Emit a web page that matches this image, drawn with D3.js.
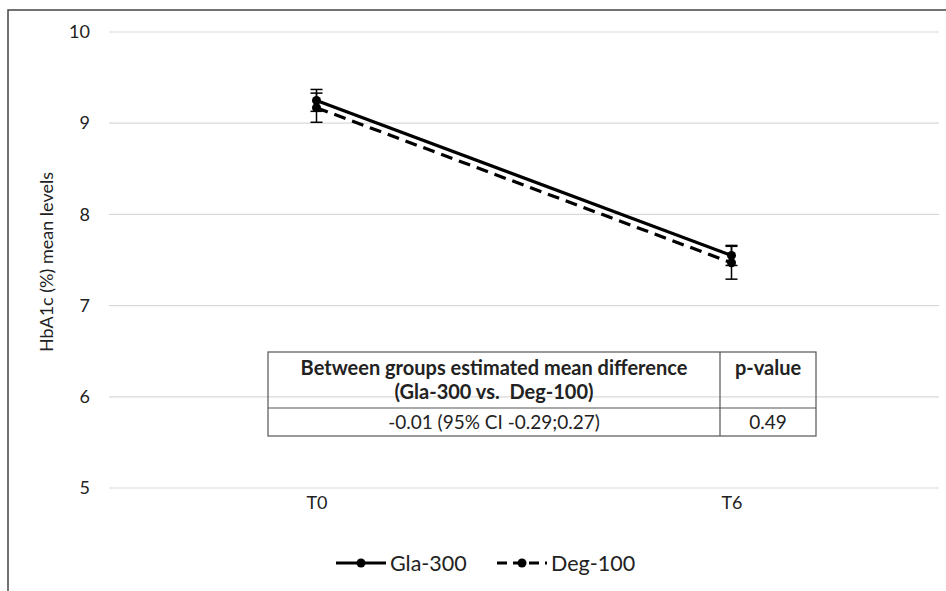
<!DOCTYPE html>
<html>
<head>
<meta charset="utf-8">
<script src="https://cdn.jsdelivr.net/npm/d3@7"></script>
<style>
  html, body { margin: 0; padding: 0; background: #fff; }
  svg { display: block; }
  text { white-space: pre; }
</style>
</head>
<body>
<svg id="chart" width="946" height="591"></svg>
<script>
// ---- data ----
const categories = ["T0", "T6"];
const glaValues = [9.25, 7.55];
const glaErrors = [0.12, 0.11];
const degValues = [9.17, 7.47];
const degErrors = [0.16, 0.18];
const yTicks = [5, 6, 7, 8, 9, 10];
const seriesNames = ["Gla-300", "Deg-100"];
const tableHeader = [["Between groups estimated mean difference", "(Gla-300 vs.  Deg-100)"], ["p-value"]];
const tableRow = ["-0.01 (95% CI -0.29;0.27)", "0.49"];
const yTitle = "HbA1c (%) mean levels";

// ---- layout ----
const svg = d3.select("#chart");
const font = "Lato, 'Open Sans', sans-serif";
const plot = { left: 109, right: 939, top: 32, bottom: 488 };

const x = d3.scalePoint().domain(categories).range([plot.left, plot.right]).padding(0.5);
const y = d3.scaleLinear().domain([5, 10]).range([plot.bottom, plot.top]);

// outer frame (top and left edges visible)
svg.append("path")
  .attr("d", `M8,591 L8,10 L946,10`)
  .attr("fill", "none").attr("stroke", "#444").attr("stroke-width", 1.5);

// gridlines
svg.append("g").selectAll("line").data(yTicks).join("line")
  .attr("x1", plot.left).attr("x2", plot.right)
  .attr("y1", d => y(d)).attr("y2", d => y(d))
  .attr("stroke", "#d9d9d9").attr("stroke-width", 1.2);

// y axis labels
const yAxis = d3.axisLeft(y).tickValues(yTicks).tickSize(0).tickPadding(19).tickFormat(d3.format("d"));
const yg = svg.append("g").attr("transform", `translate(${plot.left},0)`).call(yAxis);
yg.select(".domain").remove();
yg.selectAll("text").attr("font-family", font).attr("font-size", 18).attr("fill", "#222");

// x axis labels
const xAxis = d3.axisBottom(x).tickSize(0).tickPadding(8);
const xg = svg.append("g").attr("transform", `translate(0,${plot.bottom})`).call(xAxis);
xg.select(".domain").remove();
xg.selectAll("text").attr("font-family", font).attr("font-size", 18).attr("fill", "#222");

// y title
svg.append("text")
  .attr("transform", `translate(53,262) rotate(-90)`)
  .attr("text-anchor", "middle")
  .attr("font-family", font).attr("font-size", 18).attr("fill", "#222")
  .text(yTitle);

// series
const series = [
  { name: seriesNames[0], values: glaValues, errors: glaErrors, dash: null },
  { name: seriesNames[1], values: degValues, errors: degErrors, dash: "12,7" }
];
const line = d3.line().x((d, i) => x(categories[i])).y(d => y(d));

series.forEach(s => {
  const g = svg.append("g");
  // error bars
  s.values.forEach((v, i) => {
    const cx = x(categories[i]);
    const y1 = y(v + s.errors[i]), y2 = y(v - s.errors[i]);
    g.append("line").attr("x1", cx).attr("x2", cx).attr("y1", y1).attr("y2", y2)
      .attr("stroke", "#000").attr("stroke-width", 1.5);
    [y1, y2].forEach(yy => g.append("line")
      .attr("x1", cx - 6).attr("x2", cx + 6).attr("y1", yy).attr("y2", yy)
      .attr("stroke", "#000").attr("stroke-width", 1.5));
  });
  g.append("path").datum(s.values).attr("d", line)
    .attr("fill", "none").attr("stroke", "#000").attr("stroke-width", 3.2)
    .attr("stroke-dasharray", s.dash);
  g.selectAll("circle").data(s.values).join("circle")
    .attr("cx", (d, i) => x(categories[i])).attr("cy", d => y(d))
    .attr("r", 4.5).attr("fill", "#000");
});

// table
const tb = { left: 268, mid: 720, right: 816, top: 352, rowLine: 408, bottom: 436 };
const tg = svg.append("g");
const stroke = "#555";
tg.append("rect").attr("x", tb.left).attr("y", tb.top)
  .attr("width", tb.right - tb.left).attr("height", tb.bottom - tb.top)
  .attr("fill", "none").attr("stroke", stroke).attr("stroke-width", 1.2);
tg.append("line").attr("x1", tb.left).attr("x2", tb.right).attr("y1", tb.rowLine).attr("y2", tb.rowLine)
  .attr("stroke", stroke).attr("stroke-width", 1.2);
tg.append("line").attr("x1", tb.mid).attr("x2", tb.mid).attr("y1", tb.top).attr("y2", tb.bottom)
  .attr("stroke", stroke).attr("stroke-width", 1.2);
const c1 = (tb.left + tb.mid) / 2, c2 = (tb.mid + tb.right) / 2;
tableHeader[0].forEach((t, i) => tg.append("text")
  .attr("x", c1).attr("y", tb.top + 23 + i * 24).attr("text-anchor", "middle")
  .attr("font-family", font).attr("font-size", 20).attr("font-weight", "bold").attr("fill", "#222").text(t));
tableHeader[1].forEach((t, i) => tg.append("text")
  .attr("x", c2).attr("y", tb.top + 23 + i * 24).attr("text-anchor", "middle")
  .attr("font-family", font).attr("font-size", 20).attr("font-weight", "bold").attr("fill", "#222").text(t));
tg.append("text").attr("x", c1).attr("y", tb.rowLine + 21).attr("text-anchor", "middle")
  .attr("font-family", font).attr("font-size", 19).attr("fill", "#222").text(tableRow[0]);
tg.append("text").attr("x", c2).attr("y", tb.rowLine + 21).attr("text-anchor", "middle")
  .attr("font-family", font).attr("font-size", 19).attr("fill", "#222").text(tableRow[1]);

// legend
const legendY = 563;
const legendItems = [
  { name: seriesNames[0], x: 336, dash: null },
  { name: seriesNames[1], x: 497, dash: "10,6" }
];
legendItems.forEach(it => {
  const g = svg.append("g");
  g.append("line").attr("x1", it.x).attr("x2", it.x + 50).attr("y1", legendY).attr("y2", legendY)
    .attr("stroke", "#000").attr("stroke-width", 3.2).attr("stroke-dasharray", it.dash);
  g.append("circle").attr("cx", it.x + 25).attr("cy", legendY).attr("r", 4.5).attr("fill", "#000");
  g.append("text").attr("x", it.x + 54).attr("y", legendY + 8)
    .attr("font-family", font).attr("font-size", 21.5).attr("fill", "#222").text(it.name);
});
</script>
</body>
</html>
